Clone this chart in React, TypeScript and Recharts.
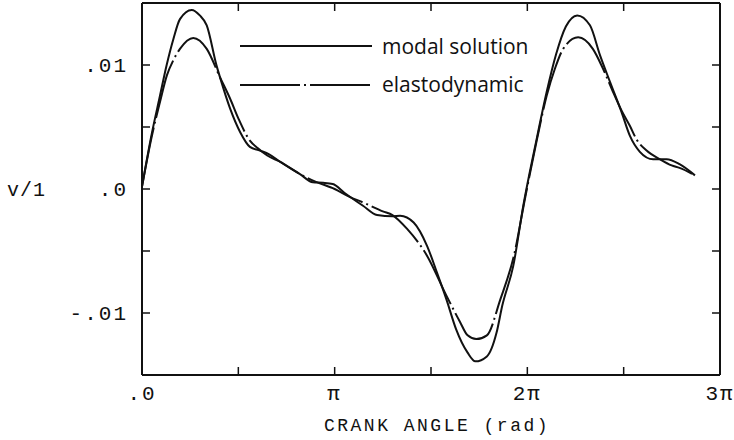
import { LineChart, Line, XAxis, YAxis } from 'recharts';

// crank angle in units of pi, v/l values
const modalAngle = [0, 0.05, 0.093, 0.128, 0.163, 0.197, 0.258, 0.3, 0.336, 0.387, 0.405, 0.457, 0.509, 0.56, 0.612, 0.66, 0.716, 0.82, 0.887, 0.94, 0.99, 1.05, 1.147, 1.22, 1.3, 1.34, 1.41, 1.48, 1.53, 1.58, 1.63, 1.69, 1.73, 1.79, 1.84, 1.87, 1.927, 1.979, 2.048, 2.1, 2.15, 2.2, 2.259, 2.325, 2.377, 2.43, 2.489, 2.532, 2.584, 2.653, 2.723, 2.79, 2.87];
const modalValue = [0.0002, 0.0044, 0.0075, 0.01, 0.0121, 0.0137, 0.01444, 0.014, 0.0132, 0.00995, 0.009, 0.0065, 0.0046, 0.0034, 0.0031, 0.0028, 0.0022, 0.0012, 0.00054, 0.0005, 0.0004, -0.0003, -0.00135, -0.0021, -0.0022, -0.00215, -0.0027, -0.0046, -0.0067, -0.0089, -0.0113, -0.0132, -0.0139, -0.0135, -0.0116, -0.0094, -0.0062, -0.00135, 0.004, 0.0078, 0.0109, 0.0131, 0.014, 0.0132, 0.0108, 0.0086, 0.0062, 0.0043, 0.003, 0.0024, 0.0024, 0.002, 0.0011];

const elastoAngle = [0, 0.05, 0.093, 0.13, 0.163, 0.197, 0.266, 0.336, 0.405, 0.457, 0.5, 0.56, 0.6, 0.65, 0.716, 0.82, 0.9, 1.0, 1.08, 1.15, 1.25, 1.3, 1.375, 1.48, 1.58, 1.65, 1.69, 1.735, 1.79, 1.86, 1.93, 1.99, 2.05, 2.1, 2.143, 2.186, 2.264, 2.34, 2.39, 2.44, 2.49, 2.532, 2.567, 2.619, 2.688, 2.749, 2.79, 2.87];
const elastoValue = [0.0002, 0.0042, 0.007, 0.0092, 0.0104, 0.0113, 0.01218, 0.0113, 0.009, 0.0073, 0.0057, 0.0039, 0.0033, 0.0027, 0.0022, 0.0012, 0.0006, 0.0, -0.00065, -0.0011, -0.0018, -0.0021, -0.0032, -0.0054, -0.0086, -0.0107, -0.0118, -0.0121, -0.0118, -0.0089, -0.0054, -0.0006, 0.004, 0.0075, 0.0097, 0.0113, 0.01223, 0.0113, 0.0098, 0.008, 0.0063, 0.0051, 0.004, 0.0031, 0.0024, 0.0019, 0.0017, 0.0011];

const xTicks = [0, 0.5, 1, 1.5, 2, 2.5, 3];
const xTickLabels: Record<number, string> = { 0: '.0', 1: 'π', 2: '2π', 3: '3π' };
const yTicks = [-0.015, -0.01, -0.005, 0, 0.005, 0.01, 0.015];
const yTickLabels: Record<string, string> = { '-0.01': '-.01', '0': '.0', '0.01': '.01' };

const modalData = modalAngle.map((a, i) => ({ angle: a, value: modalValue[i] }));
const elastoData = elastoAngle.map((a, i) => ({ angle: a, value: elastoValue[i] }));

const INK = '#111';
const DASH_DOT = '60 4 2 4';
const monoTick = { fill: INK, fontSize: 21, fontFamily: 'Liberation Mono', letterSpacing: 2 };
const frameLine = { stroke: INK, strokeWidth: 2 };
const tickMark = { stroke: INK, strokeWidth: 1.5 };

function LegendBox() {
  const txt = { fontFamily: 'Open Sans', fontSize: 21, fontWeight: 500, fill: INK };
  return (
    <svg width={330} height={70} style={{ position: 'absolute', left: 240, top: 32 }}>
      <line x1={0} y1={14} x2={132} y2={14} stroke={INK} strokeWidth={2} />
      <text x={142} y={14} dominantBaseline="central" {...txt}>
        modal solution
      </text>
      <line x1={0} y1={53} x2={132} y2={53} stroke={INK} strokeWidth={2} strokeDasharray={DASH_DOT} />
      <text x={142} y={52} dominantBaseline="central" {...txt}>
        elastodynamic
      </text>
    </svg>
  );
}

export default function App() {
  return (
    <div style={{ position: 'absolute', left: 0, top: 0, width: 734, height: 440, background: '#fff' }}>
      <LineChart width={734} height={440} margin={{ top: 1, right: 12, left: 0, bottom: 5 }}>
        <XAxis
          xAxisId="bottom"
          type="number"
          dataKey="angle"
          domain={[0, 3]}
          ticks={xTicks}
          allowDataOverflow
          height={60}
          axisLine={frameLine}
          tickLine={tickMark}
          tickSize={-8}
          tickMargin={18}
          tick={monoTick}
          tickFormatter={(v: number) => xTickLabels[v] ?? ''}
          label={{ value: 'CRANK ANGLE (rad)', position: 'insideBottom', offset: 4, dx: 6, fill: INK, fontSize: 18, fontFamily: 'Liberation Mono', letterSpacing: 2.5 }}
        />
        <XAxis
          xAxisId="top"
          orientation="top"
          type="number"
          dataKey="angle"
          domain={[0, 3]}
          ticks={xTicks}
          allowDataOverflow
          height={2}
          axisLine={frameLine}
          tickLine={tickMark}
          tickSize={-8}
          tickMargin={0}
          tick={{ fontSize: 1, fill: 'none' }}
          tickFormatter={() => ''}
        />
        <YAxis
          yAxisId="left"
          type="number"
          domain={[-0.015, 0.015]}
          ticks={yTicks}
          allowDataOverflow
          width={142}
          axisLine={frameLine}
          tickLine={tickMark}
          tickSize={-8}
          tickMargin={22}
          tick={monoTick}
          tickFormatter={(v: number) => yTickLabels[String(Math.round(v * 1000) / 1000)] ?? ''}
          label={{ value: 'v/1', position: 'insideLeft', offset: 7, fill: INK, fontSize: 20, fontFamily: 'Liberation Mono', letterSpacing: 1 }}
        />
        <YAxis
          yAxisId="right"
          orientation="right"
          type="number"
          domain={[-0.015, 0.015]}
          ticks={yTicks}
          allowDataOverflow
          width={2}
          axisLine={frameLine}
          tickLine={tickMark}
          tickSize={-8}
          tickMargin={0}
          tick={{ fontSize: 1, fill: 'none' }}
          tickFormatter={() => ''}
        />
        <Line
          xAxisId="bottom"
          yAxisId="left"
          data={modalData}
          dataKey="value"
          type="monotone"
          stroke={INK}
          strokeWidth={2}
          dot={false}
          isAnimationActive={false}
        />
        {/* same domains as bottom/left, bound to top/right so the frame axes get drawn */}
        <Line
          xAxisId="top"
          yAxisId="right"
          data={elastoData}
          dataKey="value"
          type="monotone"
          stroke={INK}
          strokeWidth={2}
          strokeDasharray={DASH_DOT}
          dot={false}
          isAnimationActive={false}
        />
      </LineChart>
      <LegendBox />
    </div>
  );
}
